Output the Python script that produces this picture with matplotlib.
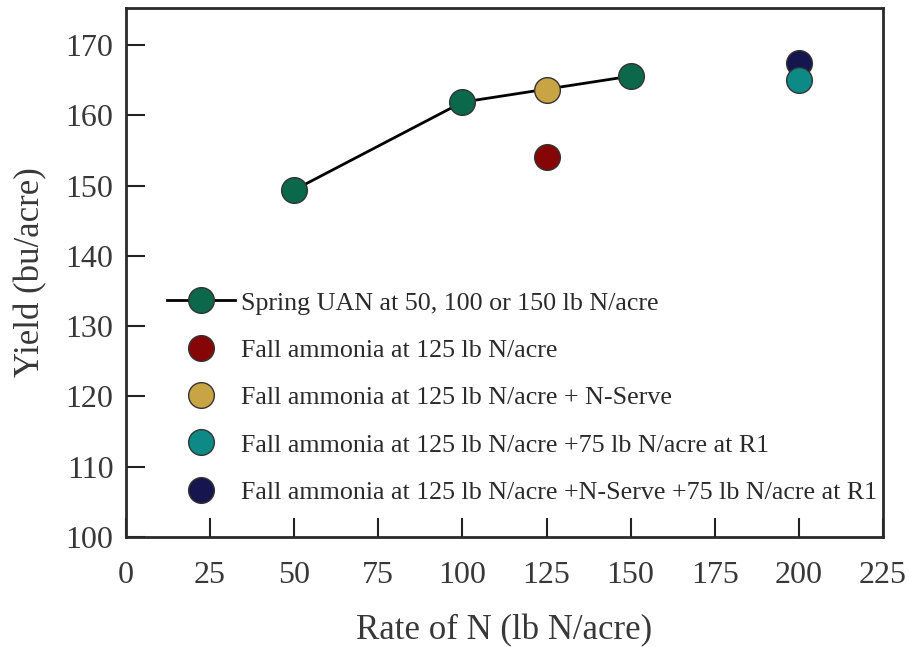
import matplotlib.pyplot as plt
from matplotlib.lines import Line2D

plt.rcParams['font.family'] = ['Liberation Serif', 'DejaVu Serif']

# data
spring_rate = [50, 100, 150]
spring_yield = [149.4, 161.9, 165.6]

fall_rate = [125]
fall_yield = [154.1]

fall_ns_rate = [125]
fall_ns_yield = [163.6]

fall_r1_rate = [200]
fall_r1_yield = [165.0]

fall_ns_r1_rate = [200]
fall_ns_r1_yield = [167.4]

labels = [
    "Spring UAN at 50, 100 or 150 lb N/acre",
    "Fall ammonia at 125 lb N/acre",
    "Fall ammonia at 125 lb N/acre + N-Serve",
    "Fall ammonia at 125 lb N/acre +75 lb N/acre at R1",
    "Fall ammonia at 125 lb N/acre +N-Serve +75 lb N/acre at R1",
]
colors = ["#0b684a", "#860608", "#c9a444", "#0e8a86", "#16164f"]

fig = plt.figure(figsize=(9.09, 6.47), dpi=100)
ax = fig.add_axes([126 / 909, 1 - 537 / 647, 757 / 909, 529 / 647])

ms = 18.5
mk = dict(marker='o', markersize=ms, markeredgecolor='#333333', markeredgewidth=1.0, linestyle='none')

ax.plot(spring_rate, spring_yield, color='black', linewidth=2.0, marker='o', markersize=ms,
        markerfacecolor=colors[0], markeredgecolor='#333333', markeredgewidth=1.0, zorder=3)
ax.plot(fall_rate, fall_yield, markerfacecolor=colors[1], zorder=4, **mk)
ax.plot(fall_ns_rate, fall_ns_yield, markerfacecolor=colors[2], zorder=4, **mk)
ax.plot(fall_ns_r1_rate, fall_ns_r1_yield, markerfacecolor=colors[4], zorder=4, **mk)
ax.plot(fall_r1_rate, fall_r1_yield, markerfacecolor=colors[3], zorder=5, **mk)

handles = [Line2D([], [], color='black', linewidth=2.0, marker='o', markersize=ms,
                  markerfacecolor=colors[0], markeredgecolor='#333333')]
for c in colors[1:]:
    handles.append(Line2D([], [], markerfacecolor=c, **mk))

ax.legend(handles, labels, loc='upper left', bbox_to_anchor=(0.04, 0.484), frameon=False,
          fontsize=18.7, handlelength=2.65, handletextpad=0.2, labelspacing=0.93,
          borderaxespad=0, numpoints=1, labelcolor='#2a2a2a')

ax.set_xlim(0, 225)
ax.set_ylim(100, 175.3)
ax.set_xticks(range(0, 226, 25))
ax.set_yticks(range(100, 171, 10))
ax.tick_params(axis='both', direction='in', length=14, width=1.5, labelsize=23,
               colors='#222222', labelcolor='#383838')
ax.tick_params(axis='x', pad=17)
ax.tick_params(axis='y', pad=9)
for s in ax.spines.values():
    s.set_linewidth(2.0)
    s.set_color('#2a2a2a')

ax.set_xlabel("Rate of N (lb N/acre)", fontsize=25, color='#383838', labelpad=18)
ax.set_ylabel("Yield (bu/acre)", fontsize=25, color='#383838', labelpad=13)

plt.savefig("out.png", dpi=100)
